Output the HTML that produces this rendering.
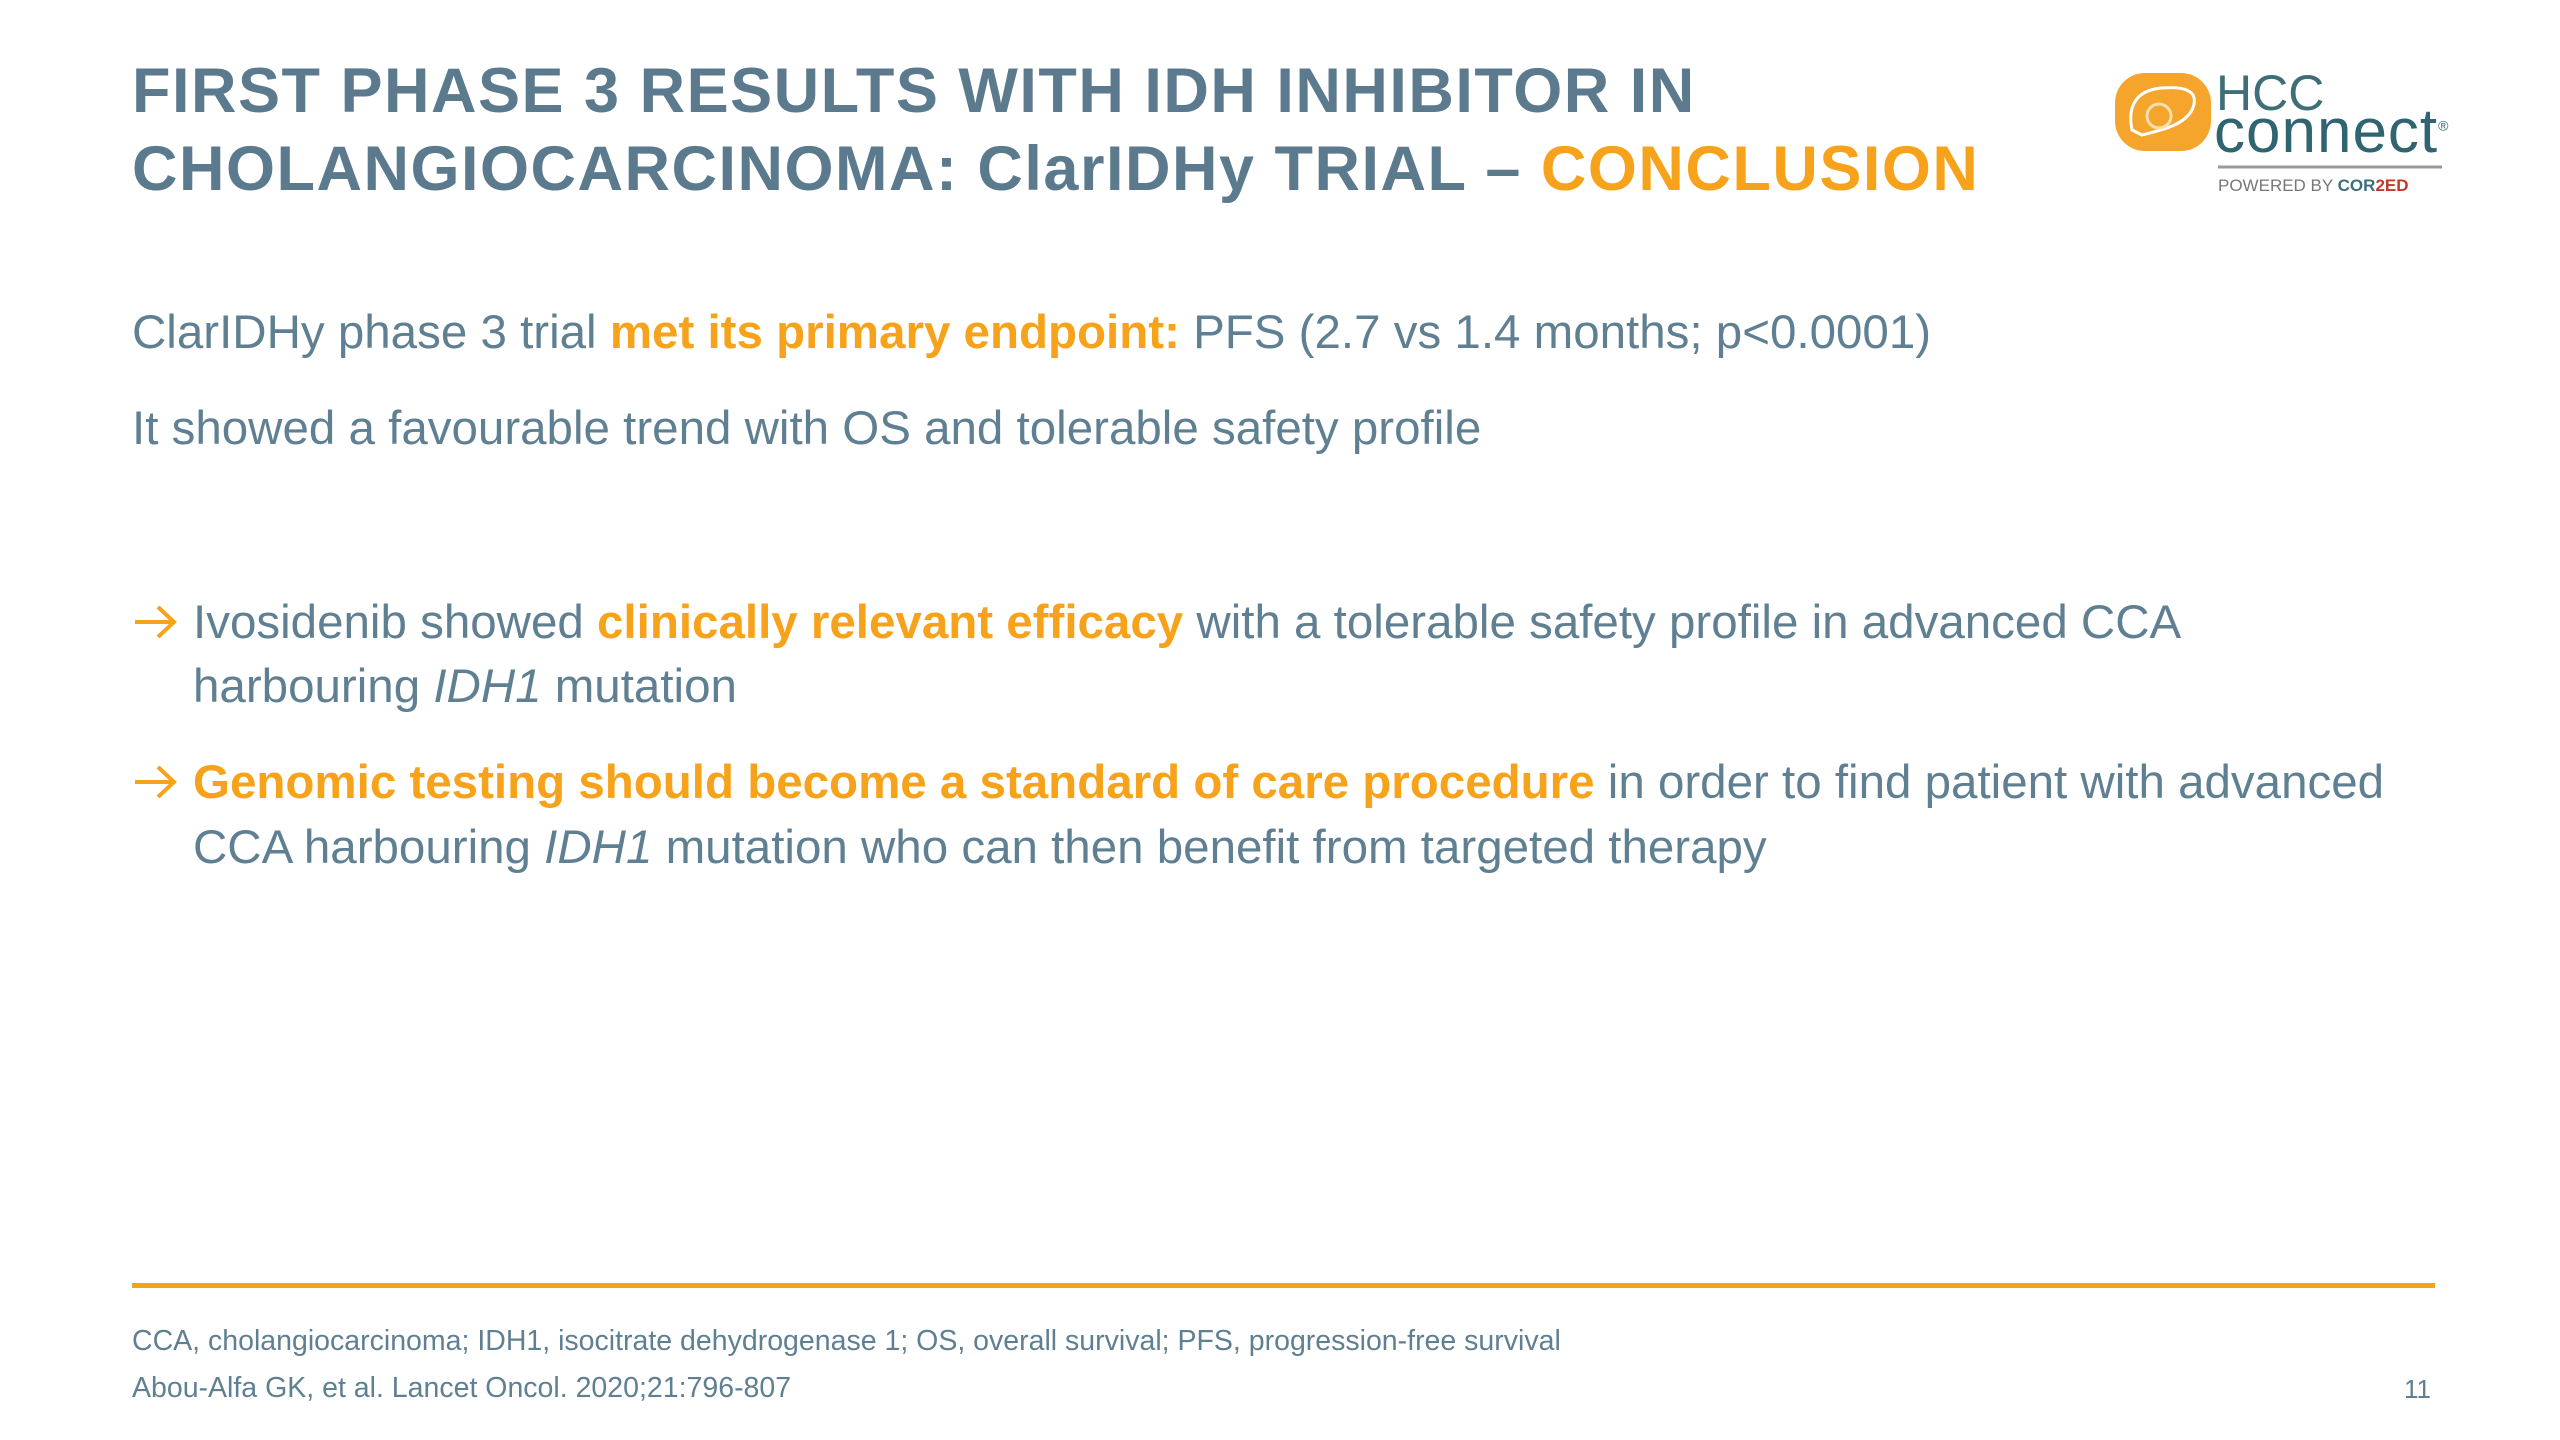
<!DOCTYPE html>
<html><head><meta charset="utf-8"><style>
html,body{margin:0;padding:0;background:#fff;}
#page{position:relative;width:2560px;height:1440px;overflow:hidden;background:#fff;font-family:"Liberation Sans",sans-serif;}
.t{position:absolute;white-space:nowrap;}
.title{font-weight:bold;font-size:63px;color:#5b7a8e;letter-spacing:1.5px;}
.body{font-size:47.5px;color:#5f7f92;}
.o{color:#f7a21b;font-weight:bold;}
.oy{color:#f7a21b;}
.foot{font-size:28.5px;color:#5f7f92;}
</style></head><body>
<div id="page">
<div class="t title" style="left:132px;top:55px;">FIRST PHASE 3 RESULTS WITH IDH INHIBITOR IN</div>
<div class="t title" style="left:132px;top:133px;">CHOLANGIOCARCINOMA: ClarIDHy TRIAL – <span class="oy">CONCLUSION</span></div>

<div style="position:absolute;left:2112px;top:70px;width:360px;height:130px;">
<svg width="360" height="130" style="position:absolute;left:0;top:0;">
<rect x="3" y="3" width="96" height="78" rx="30" fill="#f5a52b"/>
<path d="M20 60 C15 35 25 20 50 18 C75 16 88 22 80 40 C72 55 50 60 30 65 Z" fill="none" stroke="#fff" stroke-width="3"/>
<circle cx="47" cy="46" r="12" fill="none" stroke="#fde0b0" stroke-width="3"/>
<line x1="106" y1="97" x2="330" y2="97" stroke="#999" stroke-width="3"/>
</svg>
<div class="t" style="left:104px;top:-6px;font-size:50px;color:#3f6e78;">HCC</div>
<div class="t" style="left:102px;top:26px;font-size:62px;color:#2f6470;letter-spacing:1px;">connect<sup style="font-size:14px;">®</sup></div>
<div class="t" style="left:106px;top:106px;font-size:17px;color:#777;">POWERED BY <b style="color:#3f6e78">COR</b><b style="color:#c0392b">2ED</b></div>
</div>

<div class="t body" style="left:132px;top:305px;">ClarIDHy phase 3 trial <span class="o">met its primary endpoint:</span> PFS (2.7 vs 1.4 months; p&lt;0.0001)</div>
<div class="t body" style="left:132px;top:401px;">It showed a favourable trend with OS and tolerable safety profile</div>

<svg style="position:absolute;left:132px;top:602px;" width="48" height="40"><path d="M3 20 H42 M26 5 L42 20 L26 35" fill="none" stroke="#f7a21b" stroke-width="4"/></svg>
<div class="t body" style="left:193px;top:595px;">Ivosidenib showed <span class="o">clinically relevant efficacy</span> with a tolerable safety profile in advanced CCA</div>
<div class="t body" style="left:193px;top:659px;">harbouring <i>IDH1</i> mutation</div>

<svg style="position:absolute;left:132px;top:762px;" width="48" height="40"><path d="M3 20 H42 M26 5 L42 20 L26 35" fill="none" stroke="#f7a21b" stroke-width="4"/></svg>
<div class="t body" style="left:193px;top:755px;"><span class="o">Genomic testing should become a standard of care procedure</span> in order to find patient with advanced</div>
<div class="t body" style="left:193px;top:820px;">CCA harbouring <i>IDH1</i> mutation who can then benefit from targeted therapy</div>

<div style="position:absolute;left:132px;top:1283px;width:2303px;height:5px;background:#f7a21b;"></div>
<div class="t foot" style="left:132px;top:1325px;">CCA, cholangiocarcinoma; IDH1, isocitrate dehydrogenase 1; OS, overall survival; PFS, progression-free survival</div>
<div class="t foot" style="left:132px;top:1372px;">Abou-Alfa GK, et al. Lancet Oncol. 2020;21:796-807</div>
<div class="t foot" style="left:2404px;top:1374px;font-size:26px;">11</div>
</div>
</body></html>
